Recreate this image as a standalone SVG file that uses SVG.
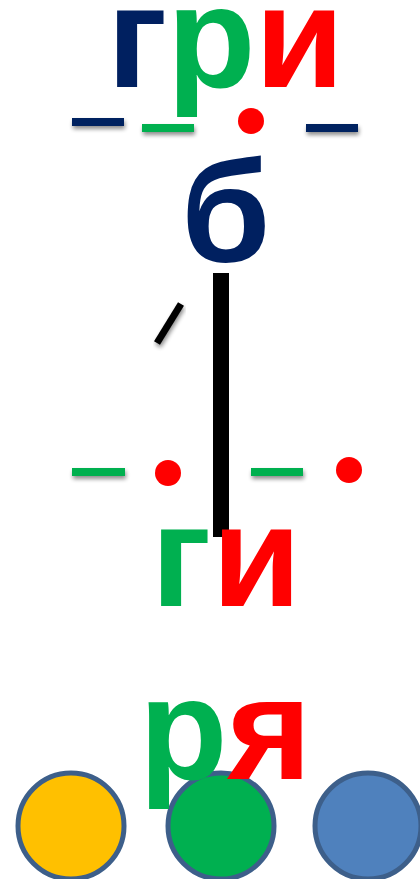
<svg xmlns="http://www.w3.org/2000/svg" width="420" height="879" viewBox="0 0 420 879">
<defs>
<filter id="sh" x="-20%" y="-100%" width="140%" height="400%">
<feGaussianBlur in="SourceAlpha" stdDeviation="2"/>
<feOffset dx="1" dy="3" result="b"/>
<feComponentTransfer><feFuncA type="linear" slope="0.45"/></feComponentTransfer>
<feMerge><feMergeNode/><feMergeNode in="SourceGraphic"/></feMerge>
</filter>
<style>
.l{font-family:"Liberation Sans",Arial,sans-serif;font-weight:bold;font-size:145px}
.b{fill:#002060}.g{fill:#00B050}.r{fill:#FF0000}
.c{stroke:#3D5F8A;stroke-width:5}
</style>
</defs>
<rect width="420" height="879" fill="#fff"/>
<g id="circles">
<circle cx="71" cy="826" r="53" fill="#FFC000" class="c"/>
<circle cx="221" cy="826" r="53" fill="#00B050" class="c"/>
<circle cx="368" cy="826" r="53" fill="#4F81BD" class="c"/>
</g>
<g id="word-top">
<text class="l b" x="107" y="87">г</text>
<text class="l g" x="167" y="87">р</text>
<text class="l r" x="255" y="87">и</text>
</g>
<g id="scheme-top" filter="url(#sh)">
<rect x="72" y="118" width="52" height="8" fill="#002060"/>
<rect x="142" y="124" width="52" height="8" fill="#00B050"/>
<rect x="306" y="124" width="52" height="8" fill="#002060"/>
</g>
<circle cx="251" cy="121" r="13" fill="#FF0000"/>
<g id="letter-b"><text class="l b" x="181" y="262">б</text></g>
<g id="connectors">
<rect x="213" y="273" width="16" height="264" fill="#000"/>
<line x1="157" y1="343" x2="181" y2="304" stroke="#000" stroke-width="7" filter="url(#sh)"/>
</g>
<g id="scheme-bottom">
<g filter="url(#sh)">
<rect x="72" y="468" width="53" height="8" fill="#00B050"/>
<rect x="251" y="468" width="52" height="8" fill="#00B050"/>
</g>
<circle cx="168" cy="473" r="13" fill="#FF0000"/>
<circle cx="349" cy="470" r="13" fill="#FF0000"/>
</g>
<g id="word-gi">
<text class="l g" x="151" y="606">г</text>
<text class="l r" x="212" y="606">и</text>
</g>
<g id="word-rya">
<text class="l g" x="139" y="779">р</text>
<text class="l r" x="227" y="779">я</text>
</g>
</svg>
